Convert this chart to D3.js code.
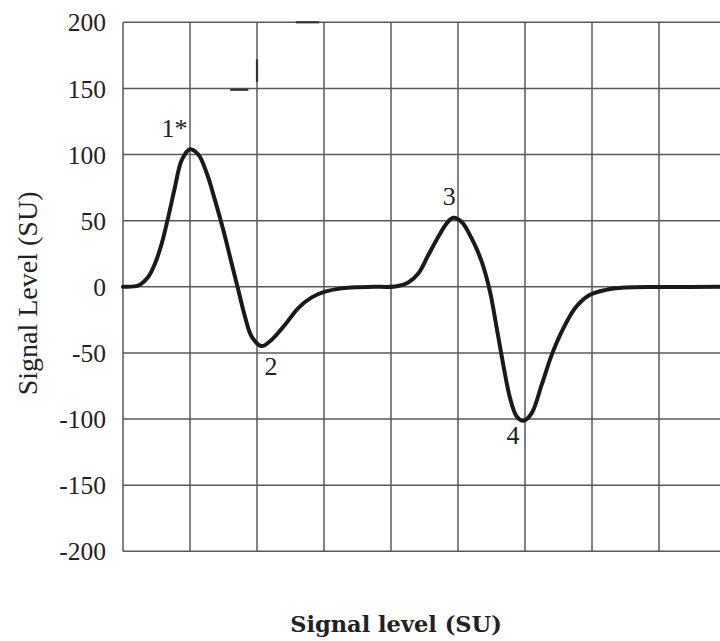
<!DOCTYPE html>
<html>
<head>
<meta charset="utf-8">
<script src="https://cdn.jsdelivr.net/npm/d3@7"></script>
<style>
  html, body { margin: 0; padding: 0; background: #fff; }
  svg { display: block; }
</style>
</head>
<body>
<svg id="chart" width="720" height="641"></svg>
<script>
// ---- data ----
const xGrid = [0, 1, 2, 3, 4, 5, 6, 7, 8, 9];
const yTicks = [200, 150, 100, 50, 0, -50, -100, -150, -200];
const signalX = [0, 0.03, 0.228, 0.378, 0.478, 0.578, 0.676, 0.776, 0.876, 1.0, 1.124, 1.249, 1.373, 1.497, 1.622, 1.721, 1.821, 1.921, 2.07, 2.219, 2.418, 2.616, 2.816, 3.015, 3.264, 3.463, 3.75, 4.06, 4.258, 4.407, 4.557, 4.706, 4.831, 4.93, 5.055, 5.204, 5.354, 5.478, 5.578, 5.676, 5.776, 5.876, 5.975, 6.1, 6.249, 6.399, 6.548, 6.746, 6.945, 7.194, 7.493, 8.0, 9.0];
const signalY = [0, 0, 1, 7.6, 17.6, 32.7, 52.9, 75.5, 95.8, 104, 100, 86, 65.5, 42.9, 17.6, -2.4, -22.6, -37.7, -44.8, -40, -28.7, -16.1, -8, -3.7, -1.2, -0.3, 0, 0.3, 3.3, 10, 24, 37.8, 48, 52.2, 49, 36.6, 19, -3.7, -31.3, -59, -84, -98, -101.3, -95.5, -74, -51.5, -33.9, -16.2, -6.7, -2.5, -0.6, -0.2, 0];
const peakLabels = ["1*", "2", "3", "4"];
const peakX = [0.77, 2.21, 4.87, 5.82];
const peakY = [113, -67, 62, -119];
// stray marks present in the source figure: [x1, y1, x2, y2]
const strayMarks = [[2.58, 200, 2.93, 200], [2.0, 172, 2.0, 155], [1.60, 149, 1.87, 149]];
const yTitle = "Signal Level (SU)";
const xTitle = "Signal level (SU)";

// ---- layout ----
const svg = d3.select("#chart");
const x = d3.scaleLinear().domain([0, 9]).range([123, 726]);
const y = d3.scaleLinear().domain([-200, 200]).range([551.3, 22.3]);
const gridColor = "#5a5a5a";
const serif = "'Liberation Serif', 'Times New Roman', Times, serif";

// vertical grid lines
svg.append("g").selectAll("line").data(xGrid).join("line")
  .attr("x1", d => x(d)).attr("x2", d => x(d))
  .attr("y1", y(200)).attr("y2", y(-200))
  .attr("stroke", gridColor).attr("stroke-width", 1.5);

// horizontal grid lines
svg.append("g").selectAll("line").data(yTicks).join("line")
  .attr("x1", x(0)).attr("x2", x(9))
  .attr("y1", d => y(d)).attr("y2", d => y(d))
  .attr("stroke", gridColor).attr("stroke-width", 1.5);

// y axis labels (plain hyphen-minus, as in the source)
const yAxis = d3.axisLeft(y).tickValues(yTicks).tickSize(0).tickPadding(17).tickFormat(d => String(d));
const ya = svg.append("g").attr("transform", `translate(${x(0)},0)`).call(yAxis);
ya.select(".domain").remove();
ya.selectAll("text")
  .attr("font-family", serif)
  .attr("font-size", 25.5).attr("fill", "#222").attr("dy", "0.34em");

// stray marks
svg.append("g").selectAll("line").data(strayMarks).join("line")
  .attr("x1", d => x(d[0])).attr("y1", d => y(d[1]))
  .attr("x2", d => x(d[2])).attr("y2", d => y(d[3]))
  .attr("stroke", "#333").attr("stroke-width", 2.2);

// signal curve
const pts = signalX.map((v, i) => [v, signalY[i]]);
svg.append("path").datum(pts)
  .attr("fill", "none").attr("stroke", "#1a1a1a").attr("stroke-width", 4)
  .attr("stroke-linejoin", "round").attr("stroke-linecap", "round")
  .attr("d", d3.line().x(d => x(d[0])).y(d => y(d[1])).curve(d3.curveCatmullRom.alpha(0.5)));

// peak labels
svg.append("g").selectAll("text").data(peakLabels).join("text")
  .attr("x", (d, i) => x(peakX[i])).attr("y", (d, i) => y(peakY[i]))
  .attr("text-anchor", "middle")
  .attr("font-family", serif)
  .attr("font-size", 26).attr("fill", "#222")
  .text(d => d);

// y title
svg.append("text")
  .attr("transform", `translate(37,${y(-5)}) rotate(-90)`)
  .attr("text-anchor", "middle")
  .attr("font-family", serif)
  .attr("font-size", 28).attr("fill", "#222")
  .text(yTitle);

// x title
svg.append("text")
  .attr("x", 396).attr("y", 632)
  .attr("text-anchor", "middle")
  .attr("font-family", "'DejaVu Serif', serif")
  .attr("font-weight", "bold")
  .attr("font-size", 22.5).attr("fill", "#222")
  .text(xTitle);
</script>
</body>
</html>
